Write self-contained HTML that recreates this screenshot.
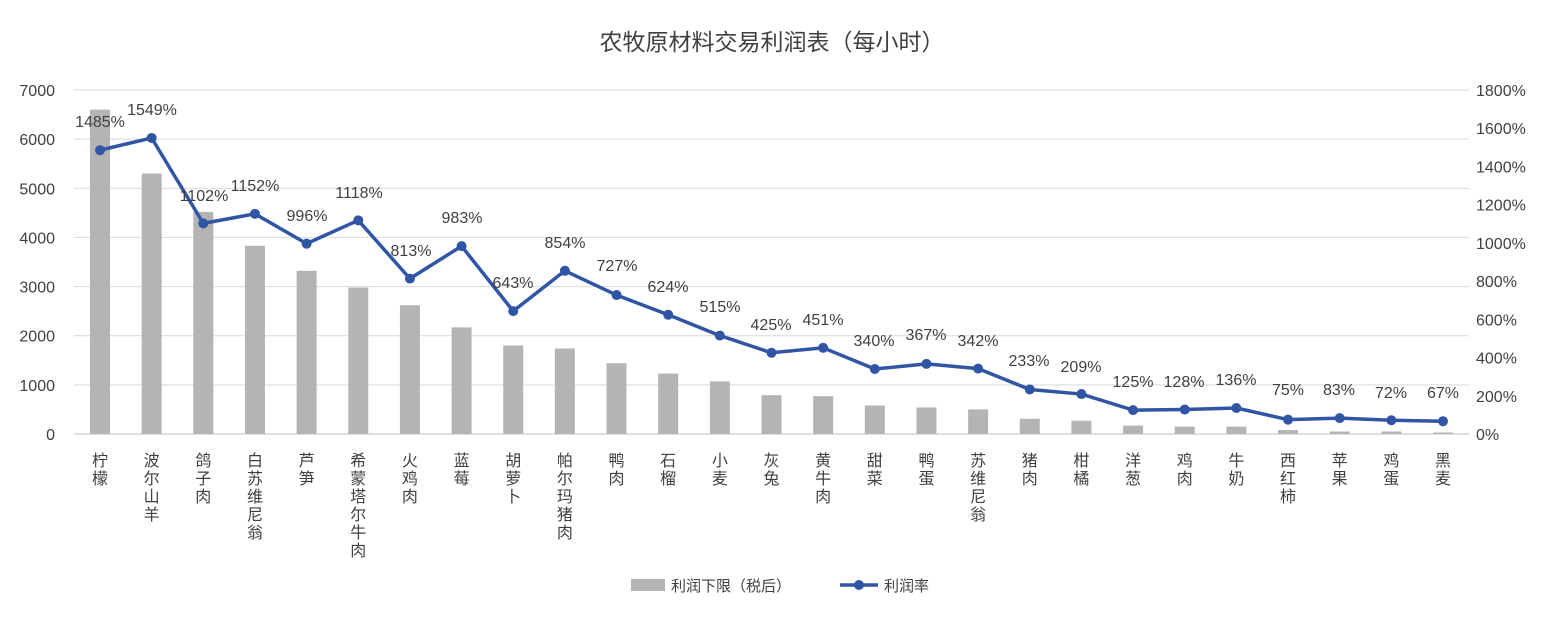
<!DOCTYPE html><html><head><meta charset="utf-8"><style>body{margin:0;background:#fff}</style></head><body>
<svg id="s" width="1562" height="616" xmlns="http://www.w3.org/2000/svg" font-family="Liberation Sans, Noto Sans CJK SC, sans-serif">
<text x="772" y="50" text-anchor="middle" font-size="23" fill="#404040">农牧原材料交易利润表（每小时）</text>
<g id="g"></g>
</svg>
<script>
const names=["柠檬","波尔山羊","鸽子肉","白苏维尼翁","芦笋","希蒙塔尔牛肉","火鸡肉","蓝莓","胡萝卜","帕尔玛猪肉","鸭肉","石榴","小麦","灰兔","黄牛肉","甜菜","鸭蛋","苏维尼翁","猪肉","柑橘","洋葱","鸡肉","牛奶","西红柿","苹果","鸡蛋","黑麦"];
const bars=[6600,5300,4520,3830,3320,2980,2620,2170,1800,1740,1440,1230,1070,790,770,580,540,500,310,270,170,150,150,80,50,50,30];
const pct=[1485,1549,1102,1152,996,1118,813,983,643,854,727,624,515,425,451,340,367,342,233,209,125,128,136,75,83,72,67];
const lab=[[100,121],[152,109],[204,195],[255,185],[307,215],[359,192],[411,250],[462,217],[513,282],[565,242],[617,265],[668,286],[720,306],[771,324],[823,319],[874,340],[926,334],[978,340],[1029,360],[1081,366],[1133,381],[1184,381],[1236,379],[1288,389],[1339,389],[1391,392],[1443,392]];
let h='';const y0=434,sc=344/7000,step=(1443-100)/26;
for(let i=0;i<=7;i++){const y=y0-i*1000*sc;h+=`<line x1="74" x2="1469" y1="${y}" y2="${y}" stroke="${i?'#d9d9d9':'#bfbfbf'}" stroke-width="1"/>`;
h+=`<text x="55" y="${y+6}" text-anchor="end" font-size="16" fill="#404040">${i*1000}</text>`;}
for(let i=0;i<=9;i++){const y=y0-i*344/9;h+=`<text x="1476" y="${y+6}" font-size="16" fill="#404040">${i*200}%</text>`;}
let pts=[];
names.forEach((n,i)=>{const x=100+i*step;const bh=bars[i]*sc;
h+=`<rect x="${x-10}" y="${y0-bh}" width="20" height="${bh}" fill="#b4b4b4"/>`;
[...n].forEach((c,j)=>{h+=`<text x="${x}" y="${466+j*18}" text-anchor="middle" font-size="16" fill="#404040">${c}</text>`;});
pts.push([x,y0-pct[i]/1800*344]);});
h+=`<polyline points="${pts.map(p=>p.join(',')).join(' ')}" fill="none" stroke="#2f55a4" stroke-width="3.5" stroke-linejoin="round"/>`;
pts.forEach((p,i)=>{h+=`<circle cx="${p[0]}" cy="${p[1]}" r="5" fill="#2f55a4"/>`;
h+=`<text x="${lab[i][0]}" y="${lab[i][1]+6}" text-anchor="middle" font-size="16" fill="#404040">${pct[i]}%</text>`;});
h+=`<rect x="631" y="579" width="34" height="12" fill="#b4b4b4"/><text x="671" y="591" font-size="15" fill="#404040">利润下限（税后）</text>`;
h+=`<line x1="840" x2="878" y1="585" y2="585" stroke="#2f55a4" stroke-width="3.5"/><circle cx="859" cy="585" r="5" fill="#2f55a4"/><text x="884" y="591" font-size="15" fill="#404040">利润率</text>`;
document.getElementById('g').innerHTML=h;
</script>
</body></html>
